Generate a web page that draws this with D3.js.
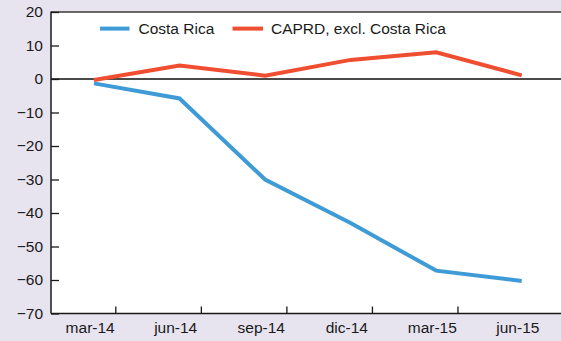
<!DOCTYPE html>
<html>
<head>
<meta charset="utf-8">
<script src="https://cdn.jsdelivr.net/npm/d3@7"></script>
<style>
  html, body { margin: 0; padding: 0; background: #e7e3ef; }
  svg { display: block; }
  text { font-family: "Liberation Sans", Arial, sans-serif; fill: #1a1a1a; }
</style>
</head>
<body>
<svg id="chart" width="561" height="341"></svg>
<script>
// Quarterly periods
const periods = ["mar-14", "jun-14", "sep-14", "dic-14", "mar-15", "jun-15"];
// Series values (percent)
const costaRica = [-1.3, -5.8, -30, -43, -57.2, -60.3];
const caprdExclCR = [-0.3, 4.0, 1.0, 5.7, 8.0, 1.1];
const seriesNames = ["Costa Rica", "CAPRD, excl. Costa Rica"];
const seriesColors = ["#3f9bd6", "#f04e31"];
const yTicks = [20, 10, 0, -10, -20, -30, -40, -50, -60, -70];

const W = 561, H = 341;
const plot = { left: 51, top: 12, right: 561, bottom: 313.5 };

const svg = d3.select("#chart");

const x = d3.scaleLinear().domain([0, periods.length - 1]).range([94, 521.7]);
const y = d3.scaleLinear().domain([-70, 20]).range([plot.bottom, plot.top]);

// Plot background
svg.append("rect")
  .attr("x", plot.left).attr("y", plot.top)
  .attr("width", plot.right - plot.left + 5).attr("height", plot.bottom - plot.top)
  .attr("fill", "#ffffff");

// Top frame line
svg.append("line")
  .attr("x1", plot.left).attr("x2", plot.right + 5)
  .attr("y1", plot.top).attr("y2", plot.top)
  .attr("stroke", "#3a3a3a").attr("stroke-width", 1.3);

// Zero line
svg.append("line")
  .attr("x1", plot.left).attr("x2", plot.right + 5)
  .attr("y1", y(0)).attr("y2", y(0))
  .attr("stroke", "#4a4a4a").attr("stroke-width", 2);

// Y axis: ticks pointing inward, labels to the left
const fmt = v => (v < 0 ? "\u2212" + Math.abs(v) : String(v));
const yAxis = svg.append("g").attr("transform", `translate(${plot.left},0)`)
  .call(d3.axisRight(y).tickValues(yTicks).tickSize(8).tickFormat(fmt).tickPadding(0));
yAxis.select(".domain").remove();
yAxis.selectAll(".tick line").attr("stroke", "#1a1a1a").attr("stroke-width", 1.3);
yAxis.selectAll(".tick text")
  .attr("x", -8).attr("text-anchor", "end")
  .attr("font-size", 15.5).attr("fill", "#1a1a1a");

// X axis: labels at each quarter, tick marks between labels
const xAxisG = svg.append("g").attr("transform", `translate(0,${plot.bottom})`);
xAxisG.selectAll("line.xt")
  .data(d3.range(periods.length - 1))
  .join("line").attr("class", "xt")
  .attr("x1", i => x(i + 0.255)).attr("x2", i => x(i + 0.255))
  .attr("y1", 0).attr("y2", -7)
  .attr("stroke", "#1a1a1a").attr("stroke-width", 1.3);
xAxisG.selectAll("text")
  .data(periods)
  .join("text")
  .attr("x", (d, i) => x(i - 0.045))
  .attr("y", 19.5)
  .attr("text-anchor", "middle")
  .attr("font-size", 15.5)
  .text(d => d);

// Axis lines
svg.append("line")
  .attr("x1", plot.left).attr("x2", plot.left)
  .attr("y1", plot.top - 0.6).attr("y2", plot.bottom)
  .attr("stroke", "#1a1a1a").attr("stroke-width", 1.5);
svg.append("line")
  .attr("x1", plot.left).attr("x2", plot.right + 5)
  .attr("y1", plot.bottom).attr("y2", plot.bottom)
  .attr("stroke", "#1a1a1a").attr("stroke-width", 1.5);

// Series lines
const line = d3.line().x((d, i) => x(i)).y(d => y(d));
[costaRica, caprdExclCR].forEach((vals, k) => {
  svg.append("path")
    .datum(vals)
    .attr("d", line)
    .attr("fill", "none")
    .attr("stroke", seriesColors[k])
    .attr("stroke-width", 4)
    .attr("stroke-linejoin", "miter");
});

// Legend
const legendItems = [
  { x1: 100, x2: 129.5, tx: 138.5 },
  { x1: 232.5, x2: 263, tx: 271 }
];
const legend = svg.append("g");
legendItems.forEach((it, k) => {
  legend.append("line")
    .attr("x1", it.x1).attr("x2", it.x2)
    .attr("y1", 28.6).attr("y2", 28.6)
    .attr("stroke", seriesColors[k]).attr("stroke-width", 4);
  legend.append("text")
    .attr("x", it.tx).attr("y", 34)
    .attr("font-size", 15.5)
    .text(seriesNames[k]);
});
</script>
</body>
</html>
